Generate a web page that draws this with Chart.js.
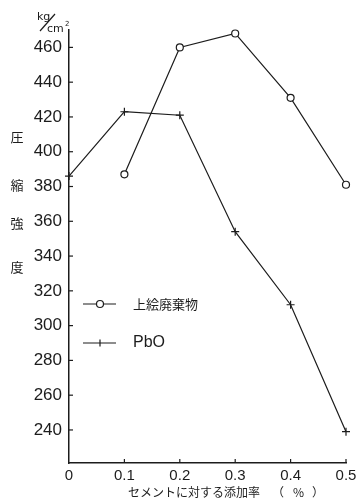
<!DOCTYPE html>
<html>
<head>
<meta charset="utf-8">
<script src="https://cdn.jsdelivr.net/npm/chart.js@4/dist/chart.umd.min.js"></script>
<style>
  html, body { margin: 0; padding: 0; background: #fff; }
  #wrap { width: 363px; height: 499px; }
</style>
</head>
<body>
<div id="wrap"><canvas id="c" width="363" height="499"></canvas></div>
<script>
// 添加率 (%)
const rates = [0, 0.1, 0.2, 0.3, 0.4, 0.5];
// 上絵廃棄物 (0 は無し)
const wasteStrength = [null, 387, 460, 468, 431, 381];
// PbO
const pboStrength = [386, 423, 421, 354, 312, 239];
const yTicks = [240, 260, 280, 300, 320, 340, 360, 380, 400, 420, 440, 460];
const xTicks = [0, 0.1, 0.2, 0.3, 0.4, 0.5];
const seriesNames = ['上絵廃棄物', 'PbO'];
const yTitle = ['圧', '縮', '強', '度'];
const xTitle = 'セメントに対する添加率';

const ink = '#1c1c1c';

function pts(arr) {
    return rates.map((r, i) => ({ x: r, y: arr[i] })).filter(p => p.y !== null);
}

// 目盛り線(内向き)・凡例・軸タイトルを描く
const decor = {
    id: 'decor',
    afterDraw(chart) {
        const ctx = chart.ctx;
        const xs = chart.scales.x, ys = chart.scales.y;
        const a = chart.chartArea;
        ctx.save();
        ctx.strokeStyle = ink;
        ctx.lineWidth = 1.2;
        yTicks.forEach(v => {
            const y = ys.getPixelForValue(v);
            ctx.beginPath(); ctx.moveTo(a.left, y); ctx.lineTo(a.left + 4, y); ctx.stroke();
        });
        xTicks.forEach(v => {
            if (v === 0) return;
            const x = xs.getPixelForValue(v);
            ctx.beginPath(); ctx.moveTo(x, a.bottom); ctx.lineTo(x, a.bottom - 4); ctx.stroke();
        });

        // 縦の軸タイトル
        ctx.fillStyle = ink;
        ctx.font = '13px "Noto Sans CJK JP"';
        ctx.textAlign = 'center';
        ctx.textBaseline = 'middle';
        const ty = [137, 185, 223, 267];
        yTitle.forEach((ch, i) => ctx.fillText(ch, 17, ty[i]));

        // 単位
        ctx.font = '11px "DejaVu Sans"';
        ctx.textAlign = 'left';
        ctx.fillText('kg', 37, 17);
        ctx.beginPath(); ctx.moveTo(40, 31); ctx.lineTo(55, 14); ctx.stroke();
        ctx.fillText('cm', 47, 29);
        ctx.font = '7px "DejaVu Sans"';
        ctx.fillText('2', 65, 24);

        // 横の軸タイトル
        ctx.font = '12px "Noto Sans CJK JP"';
        ctx.textAlign = 'left';
        ctx.fillText(xTitle, 128, 492);
        ctx.fillText('（', 272, 492);
        ctx.fillText('%', 293, 492);
        ctx.fillText('）', 312, 492);

        // 凡例
        const legendY = [304, 343];
        chart.data.datasets.forEach((ds, i) => {
            const y = legendY[i];
            ctx.strokeStyle = ink;
            ctx.lineWidth = 1.2;
            ctx.beginPath(); ctx.moveTo(83, y); ctx.lineTo(116, y); ctx.stroke();
            if (i === 0) {
                ctx.fillStyle = '#fff';
                ctx.beginPath(); ctx.arc(100, y, 3.5, 0, Math.PI * 2); ctx.fill(); ctx.stroke();
                ctx.fillStyle = ink;
                ctx.font = '13px "Noto Sans CJK JP"';
            } else {
                ctx.beginPath(); ctx.moveTo(100, y - 3.5); ctx.lineTo(100, y + 3.5); ctx.stroke();
                ctx.fillStyle = ink;
                ctx.font = '16px "Liberation Sans"';
            }
            ctx.textAlign = 'left';
            ctx.fillText(ds.label, 133, y);
        });
        ctx.restore();
    }
};

new Chart(document.getElementById('c'), {
    type: 'line',
    data: {
        datasets: [
            {
                label: seriesNames[0],
                data: pts(wasteStrength),
                borderColor: ink,
                borderWidth: 1.2,
                pointStyle: 'circle',
                pointRadius: 3.5,
                pointBackgroundColor: '#fff',
                pointBorderColor: ink,
                pointBorderWidth: 1.2,
                tension: 0,
                clip: false
            },
            {
                label: seriesNames[1],
                data: pts(pboStrength),
                borderColor: ink,
                borderWidth: 1.2,
                pointStyle: 'cross',
                pointRadius: 4,
                pointBorderColor: ink,
                pointBorderWidth: 1.2,
                tension: 0,
                clip: false
            }
        ]
    },
    options: {
        responsive: false,
        animation: false,
        layout: { padding: { top: 30, right: 17, left: 0, bottom: 0 } },
        plugins: { legend: { display: false }, tooltip: { enabled: false } },
        scales: {
            x: {
                type: 'linear',
                min: 0,
                max: 0.5,
                afterBuildTicks: s => { s.ticks = xTicks.map(v => ({ value: v })); },
                afterFit: s => { s.height = 36; },
                grid: { drawOnChartArea: false, drawTicks: false },
                border: { color: ink, width: 1.5 },
                ticks: {
                    color: ink,
                    padding: 4,
                    font: { family: 'Liberation Sans', size: 15 },
                    callback: v => v === 0 ? '0' : v.toFixed(1)
                }
            },
            y: {
                min: 221,
                max: 470,
                afterBuildTicks: s => { s.ticks = yTicks.map(v => ({ value: v })); },
                afterFit: s => { s.width = 69; },
                grid: { drawOnChartArea: false, drawTicks: false },
                border: { color: ink, width: 1.5 },
                ticks: {
                    color: ink,
                    padding: 7,
                    font: { family: 'Liberation Sans', size: 17 }
                }
            }
        }
    },
    plugins: [decor]
});
</script>
</body>
</html>
